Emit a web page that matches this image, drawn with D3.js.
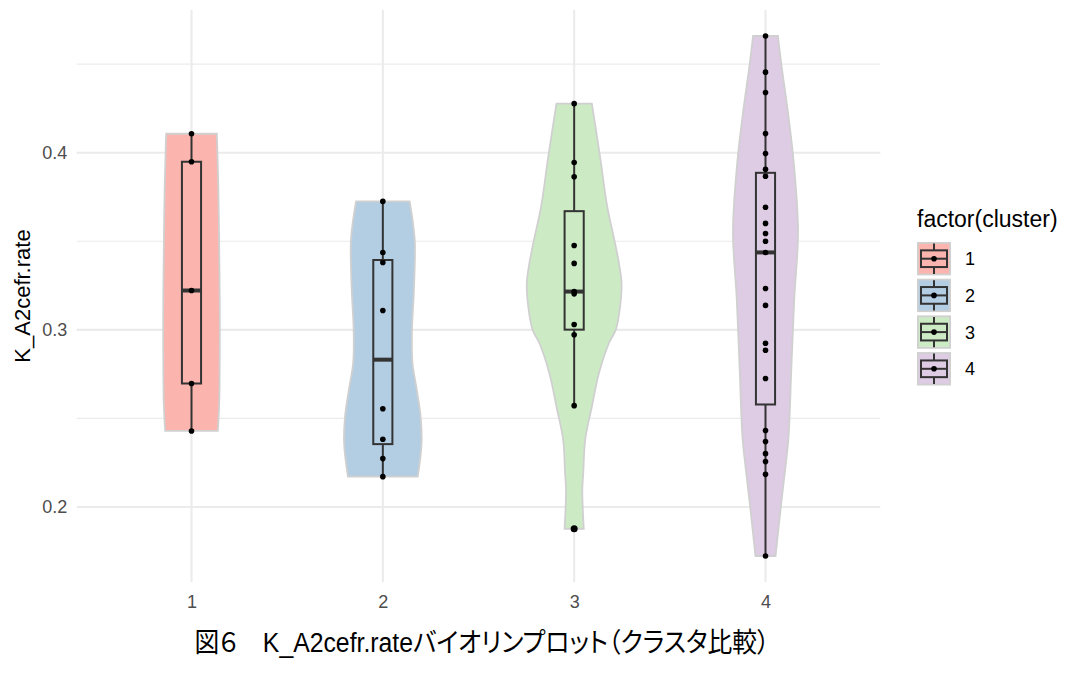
<!DOCTYPE html>
<html>
<head>
<meta charset="utf-8">
<script src="https://cdn.jsdelivr.net/npm/d3@7"></script>
<style>
  body { margin: 0; background: #fff; }
  text { font-family: "Liberation Sans", Arial, "Noto Sans CJK JP", sans-serif; }
</style>
</head>
<body>
<svg id="chart" width="1081" height="691"></svg>
<script>
'use strict';
// clusters and their colours (RColorBrewer Pastel1)
const clusters = ["1", "2", "3", "4"];
const fills = ["#FBB4AE", "#B3CDE3", "#CCEBC5", "#DECBE4"];

// K_A2cefr.rate values per cluster
const rate1 = [0.4107, 0.3949, 0.3222, 0.2697, 0.2429];
const rate2 = [0.3725, 0.3437, 0.3380, 0.3109, 0.2554, 0.2382, 0.2273, 0.2171];
const rate3 = [0.4277, 0.3945, 0.3864, 0.3476, 0.3375, 0.3216, 0.3203, 0.3030, 0.2972, 0.2572, 0.1877];
const rate4 = [0.4659, 0.4455, 0.4340, 0.4108, 0.3995, 0.3906, 0.3867, 0.3692, 0.3601, 0.3544, 0.3500,
               0.3437, 0.3233, 0.3138, 0.2924, 0.2885, 0.2725, 0.2432, 0.2369, 0.2301, 0.2256, 0.2184, 0.1723];

// violin outline: [value, relative density]
const dens1 = [[0.4107, 0.53], [0.381, 0.56], [0.3435, 0.58], [0.3153, 0.59], [0.287, 0.59], [0.2588, 0.58], [0.2429, 0.55]];
const dens2 = [[0.3725, 0.56], [0.3603, 0.63], [0.349, 0.67], [0.3226, 0.65], [0.300, 0.61], [0.2812, 0.62],
               [0.2661, 0.71], [0.251, 0.79], [0.236, 0.81], [0.2171, 0.73]];
const dens3 = [[0.4277, 0.37], [0.3979, 0.54], [0.3697, 0.69], [0.3508, 0.84], [0.337, 0.94], [0.3266, 0.99],
               [0.3132, 0.96], [0.300, 0.87], [0.2927, 0.73], [0.2757, 0.52], [0.2567, 0.37], [0.2379, 0.23],
               [0.2192, 0.19], [0.2096, 0.17], [0.1877, 0.20]];
const dens4 = [[0.4659, 0.26], [0.4501, 0.33], [0.4205, 0.48], [0.3945, 0.59], [0.3556, 0.68], [0.317, 0.60],
               [0.278, 0.54], [0.239, 0.48], [0.2209, 0.41], [0.200, 0.32], [0.1723, 0.21]];

const yTicks = [0.2, 0.3, 0.4];
const yMinor = [0.25, 0.35, 0.45];

const yTitle = "K_A2cefr.rate";
const xTitle = "図６　K_A2cefr.rateバイオリンプロット（クラスタ比較）";
const legendTitle = "factor(cluster)";

let rates = [rate1, rate2, rate3, rate4];
let dens = [dens1, dens2, dens3, dens4];

let svg = d3.select("#chart"),
    panel = {left: 76.7, right: 880.3, top: 10, bottom: 582};

svg.append("rect").attr("width", 1081).attr("height", 691).attr("fill", "#fff");

let x = d3.scalePoint()
    .domain(clusters)
    .range([panel.left, panel.right])
    .padding(0.6);

let ext = d3.extent(rates.flat());
let pad = (ext[1] - ext[0]) * 0.05;
let y = d3.scaleLinear()
    .domain([ext[0] - pad, ext[1] + pad])
    .range([panel.bottom, panel.top]);

let halfW = d3.scaleLinear().domain([0, 1]).range([0, x.step() * 0.25]);
let boxW = x.step() * 0.1;

// grid
let grid = svg.append("g");
grid.selectAll("line.minor")
    .data(yMinor)
    .enter().append("line")
    .attr("x1", panel.left).attr("x2", panel.right)
    .attr("y1", d => y(d)).attr("y2", d => y(d))
    .attr("stroke", "#EBEBEB").attr("stroke-width", 1.1);
grid.selectAll("line.major")
    .data(yTicks)
    .enter().append("line")
    .attr("x1", panel.left).attr("x2", panel.right)
    .attr("y1", d => y(d)).attr("y2", d => y(d))
    .attr("stroke", "#EBEBEB").attr("stroke-width", 2.1);
grid.selectAll("line.xmajor")
    .data(clusters)
    .enter().append("line")
    .attr("x1", d => x(d)).attr("x2", d => x(d))
    .attr("y1", panel.top).attr("y2", panel.bottom)
    .attr("stroke", "#EBEBEB").attr("stroke-width", 2.1);

// axes
let yAxis = svg.append("g")
    .attr("transform", "translate(" + panel.left + ",0)")
    .call(d3.axisLeft(y).tickValues(yTicks).tickSize(0).tickPadding(9.5).tickFormat(d3.format(".1f")));
let xAxis = svg.append("g")
    .attr("transform", "translate(0," + panel.bottom + ")")
    .call(d3.axisBottom(x).tickSize(0).tickPadding(13.5));
[yAxis, xAxis].forEach(a => {
    a.select(".domain").remove();
    a.selectAll("text")
        .attr("fill", "#4D4D4D")
        .style("font-size", "18px")
        .style("font-family", "'Liberation Sans', Arial, sans-serif");
});

function boxStats(vals) {
    let s = vals.slice().sort(d3.ascending);
    let q1 = d3.quantile(s, 0.25), med = d3.quantile(s, 0.5), q3 = d3.quantile(s, 0.75);
    let iqr = q3 - q1;
    let inside = s.filter(v => v >= q1 - 1.5 * iqr && v <= q3 + 1.5 * iqr);
    return {
        q1: q1, med: med, q3: q3,
        lo: d3.min(inside), hi: d3.max(inside),
        out: s.filter(v => v < q1 - 1.5 * iqr || v > q3 + 1.5 * iqr)
    };
}

let groups = svg.selectAll("g.cluster")
    .data(clusters.map((c, i) => ({cluster: c, fill: fills[i], rate: rates[i], dens: dens[i], stats: boxStats(rates[i])})))
    .enter().append("g")
    .attr("class", "cluster");

// violins
groups.append("path")
    .attr("d", d => {
        let cx = x(d.cluster);
        return d3.area()
            .curve(d3.curveCatmullRom)
            .y(p => y(p[0]))
            .x0(p => cx - halfW(p[1]))
            .x1(p => cx + halfW(p[1]))(d.dens);
    })
    .attr("fill", d => d.fill)
    .attr("stroke", "#D0D0D0")
    .attr("stroke-width", 1.8);

// boxplots
groups.append("line")
    .attr("x1", d => x(d.cluster)).attr("x2", d => x(d.cluster))
    .attr("y1", d => y(d.stats.hi)).attr("y2", d => y(d.stats.q3))
    .attr("stroke", "#333333").attr("stroke-width", 2);
groups.append("line")
    .attr("x1", d => x(d.cluster)).attr("x2", d => x(d.cluster))
    .attr("y1", d => y(d.stats.q1)).attr("y2", d => y(d.stats.lo))
    .attr("stroke", "#333333").attr("stroke-width", 2);
groups.append("rect")
    .attr("x", d => x(d.cluster) - boxW / 2)
    .attr("width", boxW)
    .attr("y", d => y(d.stats.q3))
    .attr("height", d => y(d.stats.q1) - y(d.stats.q3))
    .attr("fill", d => d.fill)
    .attr("stroke", "#333333").attr("stroke-width", 2);
groups.append("line")
    .attr("x1", d => x(d.cluster) - boxW / 2).attr("x2", d => x(d.cluster) + boxW / 2)
    .attr("y1", d => y(d.stats.med)).attr("y2", d => y(d.stats.med))
    .attr("stroke", "#333333").attr("stroke-width", 4);
groups.selectAll("circle.outlier")
    .data(d => d.stats.out.map(v => ({cluster: d.cluster, v: v})))
    .enter().append("circle")
    .attr("cx", d => x(d.cluster)).attr("cy", d => y(d.v))
    .attr("r", 3.5).attr("fill", "#000");

// data points
groups.selectAll("circle.pt")
    .data(d => d.rate.map(v => ({cluster: d.cluster, v: v})))
    .enter().append("circle")
    .attr("cx", d => x(d.cluster)).attr("cy", d => y(d.v))
    .attr("r", 2.8).attr("fill", "#000");

// axis titles
svg.append("text")
    .attr("transform", "translate(30," + ((panel.top + panel.bottom) / 2) + ") rotate(-90)")
    .attr("text-anchor", "middle")
    .style("font-size", "22px")
    .text(yTitle);

let cap = svg.append("text")
    .attr("x", 482)
    .attr("y", 652)
    .attr("text-anchor", "middle")
    .style("font-size", "27px")
    .style("font-family", "'Liberation Sans', 'Noto Sans CJK JP', sans-serif")
    .style("font-feature-settings", "'palt'")
    .text(xTitle);
let capLen = cap.node().getComputedTextLength();
if (Math.abs(capLen - 575) > 4) {
    cap.attr("textLength", 575).attr("lengthAdjust", "spacingAndGlyphs");
}

// legend
let legend = svg.append("g").attr("transform", "translate(917,0)");
legend.append("text")
    .attr("x", 0).attr("y", 227)
    .style("font-size", "23px")
    .text(legendTitle);
let keyH = 33.4, keyW = 34, keyStep = 36.7, keyTop = 242;
let keys = legend.selectAll("g.key")
    .data(clusters.map((c, i) => ({cluster: c, fill: fills[i]})))
    .enter().append("g")
    .attr("transform", (d, i) => "translate(0," + (keyTop + i * keyStep) + ")");
keys.append("rect")
    .attr("x", 0.9).attr("y", 0.9)
    .attr("width", keyW - 1.8).attr("height", keyH - 1.8)
    .attr("fill", d => d.fill)
    .attr("stroke", "#D0D0D0").attr("stroke-width", 1.8);
keys.append("line")
    .attr("x1", keyW / 2).attr("x2", keyW / 2)
    .attr("y1", 1.5).attr("y2", keyH - 1.5)
    .attr("stroke", "#333333").attr("stroke-width", 2);
keys.append("rect")
    .attr("x", 4).attr("y", keyH * 0.25)
    .attr("width", keyW - 8).attr("height", keyH * 0.5)
    .attr("fill", d => d.fill)
    .attr("stroke", "#333333").attr("stroke-width", 2);
keys.append("line")
    .attr("x1", 4).attr("x2", keyW - 4)
    .attr("y1", keyH / 2).attr("y2", keyH / 2)
    .attr("stroke", "#333333").attr("stroke-width", 2);
keys.append("circle")
    .attr("cx", keyW / 2).attr("cy", keyH / 2)
    .attr("r", 2.8).attr("fill", "#000");
keys.append("text")
    .attr("x", 48).attr("y", keyH / 2)
    .attr("dy", "0.36em")
    .style("font-size", "18px")
    .text(d => d.cluster);
</script>
</body>
</html>
